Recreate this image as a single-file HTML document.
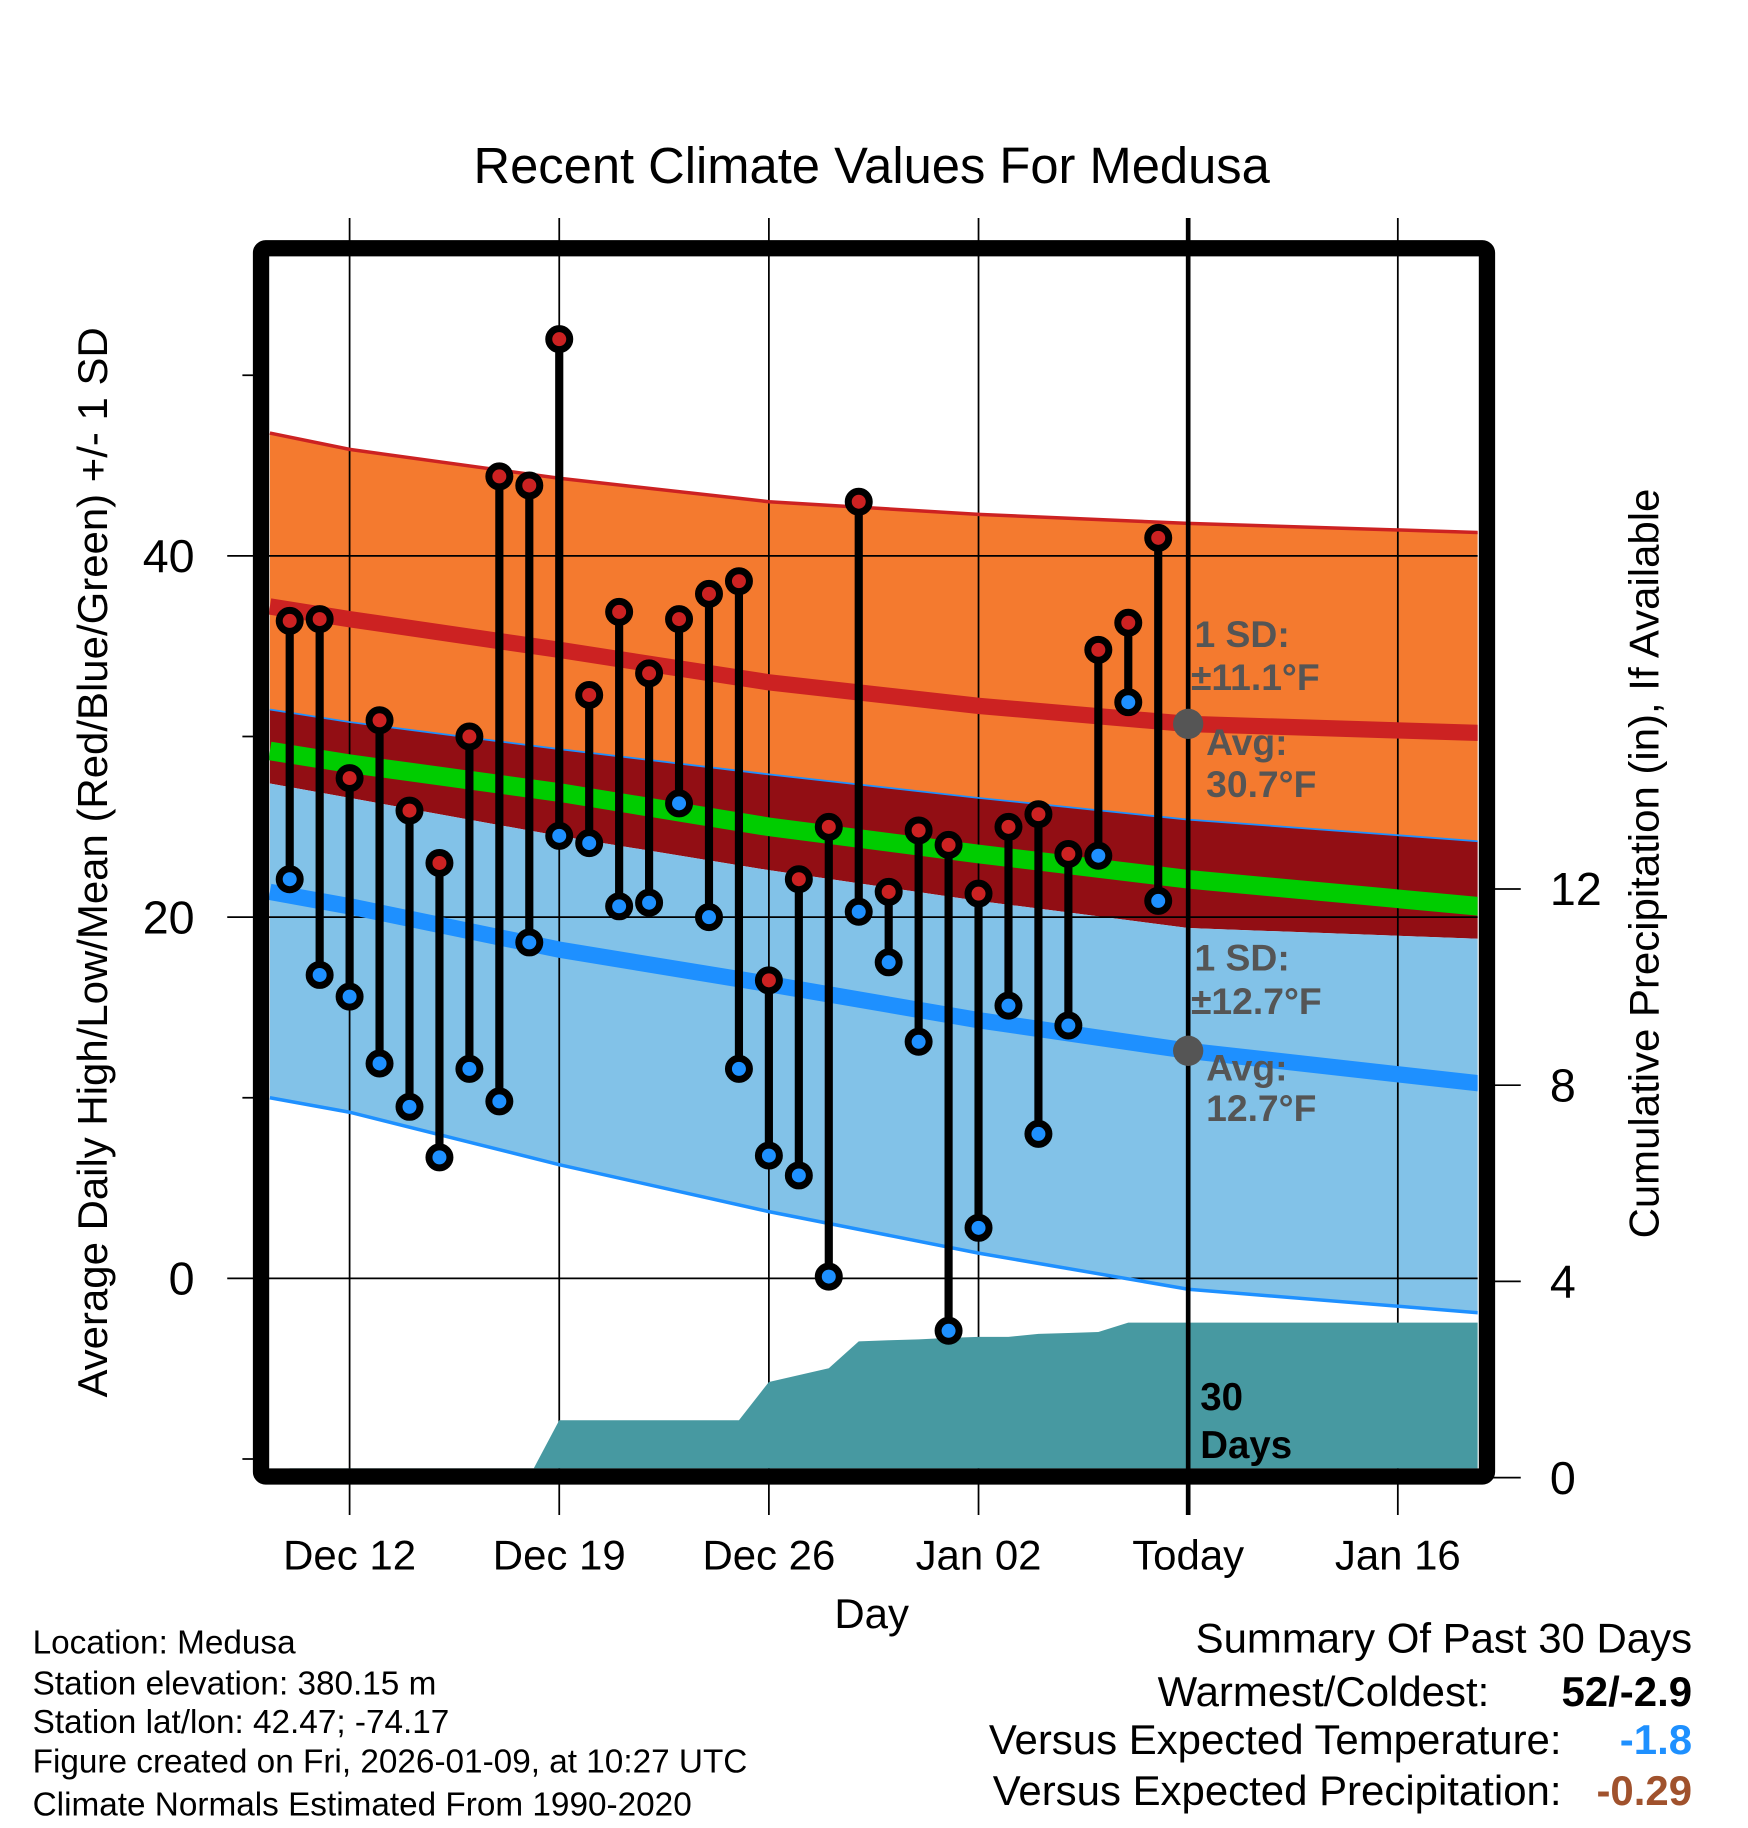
<!DOCTYPE html>
<html><head><meta charset="utf-8"><style>
html,body{margin:0;padding:0;background:#fff;}
svg{display:block;font-family:"Liberation Sans",Arial,sans-serif;}
</style></head><body>
<svg id="chart" width="1748" height="1828" viewBox="0 0 1500 1568.6" xmlns="http://www.w3.org/2000/svg">
<defs><clipPath id="plotclip"><rect x="231" y="200" width="1037" height="1100"/></clipPath></defs>
<g id="bands" clip-path="url(#plotclip)"></g>
<g id="grid"></g>
<g id="precip"></g>
<g id="lines" clip-path="url(#plotclip)"></g>
<g id="annot" font-weight="bold" fill="#555" font-size="32">
<text x="1025" y="555">1 SD:</text>
<text x="1022" y="592">±11.1°F</text>
<text x="1035" y="648">Avg:</text>
<text x="1035" y="684">30.7°F</text>
<text x="1025" y="833">1 SD:</text>
<text x="1022" y="870">±12.7°F</text>
<text x="1035" y="927">Avg:</text>
<text x="1035" y="962">12.7°F</text>
</g>
<g id="marks"></g>
<g id="frame"></g>
<text x="748" y="157" text-anchor="middle" font-size="43.5">Recent Climate Values For Medusa</text>
<text transform="translate(92,740) rotate(-90)" text-anchor="middle" font-size="36">Average Daily High/Low/Mean (Red/Blue/Green) +/- 1 SD</text>
<text transform="translate(1423,741) rotate(-90)" text-anchor="middle" font-size="36">Cumulative Precipitation (in), If Available</text>
<text x="748" y="1397" text-anchor="middle" font-size="36">Day</text>
<text x="1030" y="1210" font-size="33" font-weight="bold">30</text>
<text x="1030" y="1251" font-size="33" font-weight="bold">Days</text>
<g font-size="28.6">
<text x="28" y="1419">Location: Medusa</text>
<text x="28" y="1454">Station elevation: 380.15 m</text>
<text x="28" y="1487">Station lat/lon: 42.47; -74.17</text>
<text x="28" y="1521">Figure created on Fri, 2026-01-09, at 10:27 UTC</text>
<text x="28" y="1558">Climate Normals Estimated From 1990-2020</text>
</g>
<g font-size="36" text-anchor="end">
<text x="1452" y="1418">Summary Of Past 30 Days</text>
<text x="1278" y="1464">Warmest/Coldest:</text>
<text x="1452" y="1464" font-weight="bold">52/-2.9</text>
<text x="1340" y="1505">Versus Expected Temperature:</text>
<text x="1452" y="1505" font-weight="bold" fill="#1e90ff">-1.8</text>
<text x="1340" y="1549">Versus Expected Precipitation:</text>
<text x="1452" y="1549" font-weight="bold" fill="#a0522d">-0.29</text>
</g>
</svg>
<script>
// ---- data ----
const highs = [36.4,36.5,27.7,30.9,25.9,23.0,30.0,44.4,43.9,52.0,32.3,36.9,33.5,36.5,37.9,38.6,16.5,22.1,25.0,43.0,21.4,24.8,24.0,21.3,25.0,25.7,23.5,34.8,36.3,41.0];
const lows = [22.1,16.8,15.6,11.9,9.5,6.7,11.6,9.8,18.6,24.5,24.1,20.6,20.8,26.3,20.0,11.6,6.8,5.7,0.1,20.3,17.5,13.1,-2.9,2.8,15.1,8.0,14.0,23.4,31.9,20.9];
const precip = [0,0,0,0.02,0.02,0.02,0.02,0.02,0.02,1.17,1.17,1.17,1.17,1.17,1.17,1.17,1.95,2.09,2.23,2.78,2.80,2.82,2.85,2.87,2.87,2.93,2.95,2.97,3.16,3.16];
// normals sampled at day offsets from Dec 10 (day 0)
const normDays = [-0.66,2,9,16,23,30,39.7];
const normHighPlus = [46.8,45.9,44.3,43.0,42.3,41.8,41.3];
const normHigh = [37.2,36.5,34.8,33.0,31.7,30.7,30.2];
const normHighMinus = [31.5,30.8,29.3,27.9,26.6,25.4,24.2];
const normMean = [29.2,28.5,26.9,25.0,23.5,22.1,20.6];
const normLowPlus = [27.4,26.6,24.5,22.6,20.9,19.4,18.8];
const normLow = [21.4,20.6,18.2,16.3,14.3,12.6,10.8];
const normLowMinus = [10.0,9.2,6.3,3.7,1.4,-0.6,-1.9];
const leftTicks = [0,20,40];
const leftMinor = [-10,10,30,50];
const rightTicks = [0,4,8,12];
const xTickDays = [2,9,16,23,30,37];
const xTickLabels = ["Dec 12","Dec 19","Dec 26","Jan 02","Today","Jan 16"];
const todayDay = 30;

// ---- scales ----
const X0=231,X1=1268,Y0=220,Y1=1260;
const xs = d => 248.6 + d*25.7;
const ys = v => 1097 - v*15.5;
const yp = v => 1268 - v*42.1;
const NS="http://www.w3.org/2000/svg";
function mk(tag,attrs,parent){const e=document.createElementNS(NS,tag);for(const k in attrs)e.setAttribute(k,attrs[k]);parent.appendChild(e);return e;}
const g = id=>document.getElementById(id);
function pts(arr){return normDays.map((d,i)=>xs(d).toFixed(1)+","+ys(arr[i]).toFixed(1));}
function band(a,b,fill,name){
  const p = pts(a).concat(pts(b).reverse()).join(" ");
  const el = mk("polygon",{points:p,fill:fill},g("bands"));
  
  
}
band(normHighPlus,normHighMinus,"#f47a2f","high-sd-band");
band(normHighMinus,normLowPlus,"#920e14","overlap-band");
band(normLowPlus,normLowMinus,"#82c2e8","low-sd-band");

// grid
leftTicks.forEach(v=>{
  const l=mk("line",{x1:195,x2:X1,y1:ys(v),y2:ys(v),stroke:"#000","stroke-width":1.5},g("grid"));
  
  
  const t=mk("text",{x:167,y:ys(v)+14,"text-anchor":"end","font-size":40},g("grid"));
  t.textContent=v;
  
  
});
leftMinor.forEach(v=>{
  const l=mk("line",{x1:208,x2:222,y1:ys(v),y2:ys(v),stroke:"#000","stroke-width":1.5},g("grid"));
  
  
});
rightTicks.forEach(v=>{
  const l=mk("line",{x1:1280,x2:1305,y1:yp(v),y2:yp(v),stroke:"#000","stroke-width":1.5},g("grid"));
  
  
  const t=mk("text",{x:1330,y:yp(v)+14,"text-anchor":"start","font-size":40},g("grid"));
  t.textContent=v;
  
  
});
xTickDays.forEach((d,i)=>{
  const l=mk("line",{x1:xs(d),x2:xs(d),y1:187,y2:1300,stroke:"#000","stroke-width":1.5},g("grid"));
  
  
  const t=mk("text",{x:xs(d),y:1347,"text-anchor":"middle","font-size":36},g("grid"));
  t.textContent=xTickLabels[i];
  
  
});

// precip
{
  let p=[];
  precip.forEach((v,i)=>p.push(xs(i).toFixed(1)+","+yp(v).toFixed(1)));
  p.push(X1+","+yp(precip[precip.length-1]).toFixed(1));
  p.push(X1+","+Y1);p.push(xs(0).toFixed(1)+","+Y1);
  const el=mk("polygon",{points:p.join(" "),fill:"#4799a1"},g("precip"));
  
  
}

// normal lines
function line(arr,color,w,name){
  const el=mk("polyline",{points:pts(arr).join(" "),fill:"none",stroke:color,"stroke-width":w},g("lines"));
  
  
}
line(normHighPlus,"#cc2222",3,"high-plus-sd-line");
line(normHighMinus,"#1e90ff",1.5,"high-minus-sd-line");
line(normMean,"#00cc00",16,"mean-line");
line(normHigh,"#cc2222",14,"normal-high-line");
line(normLow,"#1e90ff",14,"normal-low-line");
line(normLowMinus,"#1e90ff",3,"low-minus-sd-line");

// today line
{
  const l=mk("line",{x1:xs(todayDay),x2:xs(todayDay),y1:187,y2:1300,stroke:"#000","stroke-width":4},g("marks"));
  
  
  const d1=mk("circle",{cx:xs(todayDay),cy:ys(normHigh[5]),r:13,fill:"#555"},g("marks"));
  
  
  const d2=mk("circle",{cx:xs(todayDay),cy:ys(normLow[5]),r:13,fill:"#555"},g("marks"));
  
  
}

// daily marks
highs.forEach((h,i)=>{
  const x=xs(i);
  const s=mk("line",{x1:x,x2:x,y1:ys(h),y2:ys(lows[i]),stroke:"#000","stroke-width":7},g("marks"));
  
  
  const a=mk("circle",{cx:x,cy:ys(h),r:9,fill:"#cc2222",stroke:"#000","stroke-width":6},g("marks"));
  
  
  const b=mk("circle",{cx:x,cy:ys(lows[i]),r:9,fill:"#1e90ff",stroke:"#000","stroke-width":6},g("marks"));
  
  
});

// frame
{
  const r=mk("rect",{x:224,y:213,width:1052,height:1054,rx:4,fill:"none",stroke:"#000","stroke-width":14},g("frame"));
  
  
}
</script>
</body></html>
